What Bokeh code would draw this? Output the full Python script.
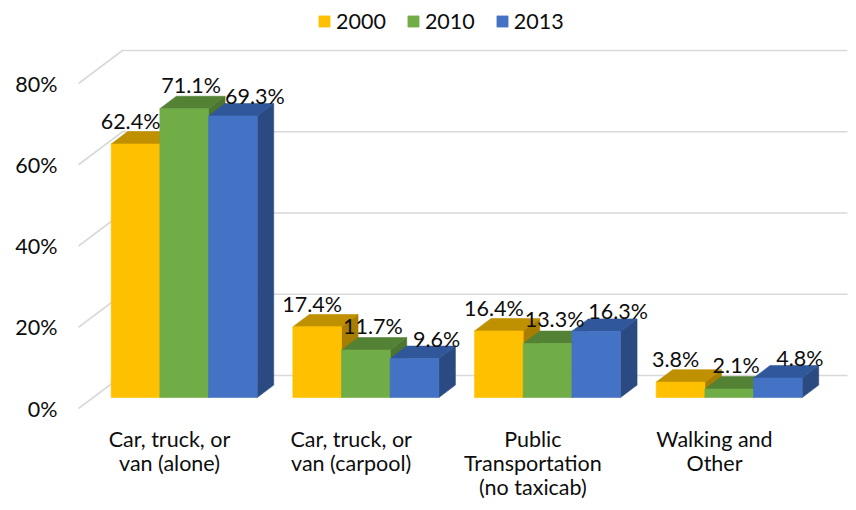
from bokeh.plotting import figure
from bokeh.models import Range1d, FixedTicker, Legend, LegendItem
from bokeh.core.properties import value
from bokeh.embed import file_html
from bokeh.resources import INLINE

# ---------------- data ----------------
categories = ["Car, truck, or\nvan (alone)", "Car, truck, or\nvan (carpool)",
              "Public\nTransportation\n(no taxicab)", "Walking and\nOther"]
years = ["2000", "2010", "2013"]
share_2000 = [62.4, 17.4, 16.4, 3.8]
share_2010 = [71.1, 11.7, 13.3, 2.1]
share_2013 = [69.3, 9.6, 16.3, 4.8]
tick_values = [0, 20, 40, 60, 80]
tick_labels = ["0%", "20%", "40%", "60%", "80%"]

series = [share_2000, share_2010, share_2013]

# ---------------- style ----------------
FONT = "Lato"
FS = "21.5px"
TXT = "#0d0d0d"
FRONT = ["#FFC000", "#70AD47", "#4472C4"]
TOP = ["#BF9000", "#548235", "#30579A"]
SIDE = ["#A87E00", "#4B7530", "#2B4A82"]
GRID = "#D9D9D9"

W, H = 848, 502
FRAME_L, FRAME_W, FRAME_H = 70, 778, 420
PX_CAT = 181.67          # px per category
PX_PCT = 4.0625          # px per percent
CAT0_X = 169.0           # px of first category front centre
ZERO_Y = 408.0           # px of 0% on the front plane

BAR_W_PX = 48.67
PLANE_DX, PLANE_DY = 14.7, 11.0
DEPTH_DX, DEPTH_DY = 16.5, 12.4
FLOOR_DX, FLOOR_DY = 44.0, 33.0
FLOOR_LEFT = 78.0
GRID_RIGHT = 847.0

LBL_DX = [-5, 7, 22]
LBL_DY = [-23, -24, -20]


def ux(px):
    return px / PX_CAT


def uy(px):
    return px / PX_PCT


x0 = (FRAME_L - CAT0_X) / PX_CAT
x1 = (FRAME_L + FRAME_W - CAT0_X) / PX_CAT
y0 = (ZERO_Y - FRAME_H) / PX_PCT
y1 = ZERO_Y / PX_PCT

p = figure(frame_width=FRAME_W, frame_height=FRAME_H,
           x_range=Range1d(x0, x1), y_range=Range1d(y0, y1),
           min_border_left=FRAME_L, min_border_right=0, min_border_top=0,
           min_border_bottom=H - FRAME_H,
           toolbar_location=None, output_backend="svg",
           outline_line_color=None, background_fill_color="white",
           border_fill_color="white")
p.xgrid.visible = False
p.ygrid.visible = False

# axes
p.yaxis.ticker = FixedTicker(ticks=tick_values)
p.yaxis.major_label_overrides = {v: l for v, l in zip(tick_values, tick_labels)}
p.xaxis.ticker = FixedTicker(ticks=list(range(len(categories))))
p.xaxis.major_label_overrides = {i: c for i, c in enumerate(categories)}
for ax in (p.xaxis[0], p.yaxis[0]):
    ax.axis_line_color = None
    ax.major_tick_line_color = None
    ax.minor_tick_line_color = None
    ax.major_tick_out = 0
    ax.major_tick_in = 0
    ax.minor_tick_out = 0
    ax.major_label_text_font = FONT
    ax.major_label_text_font_size = FS
    ax.major_label_text_color = TXT
p.yaxis.major_label_standoff = 13
p.xaxis.major_label_standoff = 5
p.xaxis.major_label_text_line_height = 0.94

# gridlines (side wall diagonal + back wall horizontal)
fl = (FLOOR_LEFT - CAT0_X) / PX_CAT
gr = (GRID_RIGHT - CAT0_X) / PX_CAT
gxs = [[fl, fl + ux(FLOOR_DX), gr] for v in tick_values]
gys = [[v, v + uy(FLOOR_DY), v + uy(FLOOR_DY)] for v in tick_values]
p.multi_line(gxs, gys, line_color=GRID, line_width=1.6)

# bars
bw = ux(BAR_W_PX)
ddx, ddy = ux(DEPTH_DX), uy(DEPTH_DY)
base = uy(PLANE_DY)
geo = []
for s, vals in enumerate(series):
    lefts = [c + ux(PLANE_DX) + (s - 1.5) * bw for c in range(len(vals))]
    rights = [l + bw for l in lefts]
    tops = [v + base for v in vals]
    geo.append((lefts, rights, tops))
    top_xs = [[l, r, r + ddx, l + ddx] for l, r in zip(lefts, rights)]
    top_ys = [[t, t, t + ddy, t + ddy] for t in tops]
    side_xs = [[r, r, r + ddx, r + ddx] for r in rights]
    side_ys = [[base, t, t + ddy, base + ddy] for t in tops]
    p.patches(side_xs, side_ys, fill_color=SIDE[s], line_color=SIDE[s], line_width=0.6)
    p.patches(top_xs, top_ys, fill_color=TOP[s], line_color=TOP[s], line_width=0.6)

front_renderers = []
for s, (lefts, rights, tops) in enumerate(geo):
    r = p.quad(left=lefts, right=rights, bottom=[base] * len(tops), top=tops,
               fill_color=FRONT[s], line_color=FRONT[s], line_width=0.6)
    front_renderers.append(r)

# data labels
for s, (lefts, rights, tops) in enumerate(geo):
    cx = [(l + r) / 2 for l, r in zip(lefts, rights)]
    p.text(x=cx, y=tops, text=[f"{v:.1f}%" for v in series[s]],
           x_offset=LBL_DX[s], y_offset=LBL_DY[s],
           text_align="center", text_baseline="middle",
           text_font=value(FONT), text_font_size=FS, text_color=TXT)

# legend
legend = Legend(items=[LegendItem(label=y, renderers=[r]) for y, r in zip(years, front_renderers)],
                orientation="horizontal", location=(247, 386),
                glyph_width=14, glyph_height=14, label_standoff=5,
                label_width=47, spacing=20, padding=0, margin=0,
                border_line_color=None, background_fill_alpha=0,
                label_text_font=FONT, label_text_font_size=FS, label_text_color=TXT)
p.add_layout(legend, "center")

open("out.html", "w").write(file_html(p, INLINE))
